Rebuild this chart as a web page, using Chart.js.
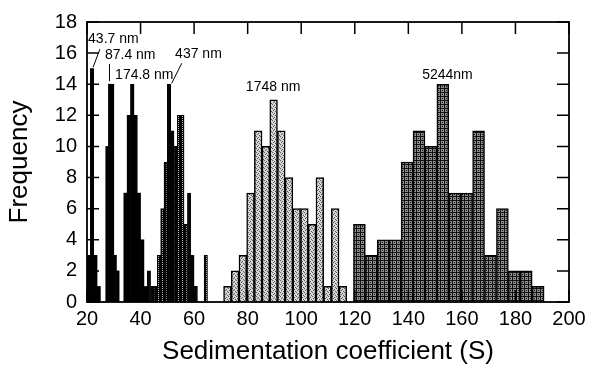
<!DOCTYPE html>
<html>
<head>
<meta charset="utf-8">
<script src="https://cdn.jsdelivr.net/npm/chart.js@4/dist/chart.umd.min.js"></script>
<style>
  body { margin: 0; background: #fff; }
</style>
</head>
<body>
<canvas id="graph" width="597" height="367"></canvas>
<script>
// 43.7 nm (ビン中心, 度数)
const s43Bins = [20.625, 21.875, 23.125, 24.375];
const s43Counts = [3, 15, 3, 1];

// 87.4 nm
const s87Bins = [27.5, 28.5, 29.5, 30.5, 31.5];
const s87Counts = [10, 14, 14, 3, 2];

// 174.8 nm
const s174Bins = [34.375, 35.625, 36.875, 38.125, 39.375, 40.625, 41.875];
const s174Counts = [7, 12, 14, 12, 7, 4, 1];

// 437 nm
const s437Bins = [43.125, 44.375, 45.625, 46.875, 48.125, 49.375, 50.625, 51.875, 53.125,
  54.375, 55.625, 56.875, 58.125, 59.375, 60.625, 61.875, 63.125, 64.375];
const s437Counts = [2, 1, 1, 3, 6, 9, 14, 11, 10, 12, 12, 5, 7, 3, 1, 0, 0, 3];

// 1748 nm
const s1748Bins = [72.44, 75.31, 78.19, 81.06, 83.94, 86.81, 89.69, 92.56, 95.44,
  98.31, 101.19, 104.06, 106.94, 109.81, 112.69, 115.56];
const s1748Counts = [1, 2, 3, 7, 11, 10, 13, 11, 8, 6, 6, 5, 8, 1, 6, 1];

// 5244 nm
const s5244Bins = [112.83, 117.28, 121.73, 126.18, 130.63, 135.08, 139.53, 143.98, 148.43,
  152.88, 157.33, 161.78, 166.23, 170.68, 175.13, 179.58, 184.03, 188.48];
const s5244Counts = [1, 0, 5, 3, 4, 4, 9, 11, 10, 14, 7, 7, 11, 3, 6, 2, 2, 1];

// 目盛
const xTicks = [20, 40, 60, 80, 100, 120, 140, 160, 180, 200];
const yTicks = [0, 2, 4, 6, 8, 10, 12, 14, 16, 18];

// 注記 (データ座標)
const noteTexts = ['43.7 nm', '87.4 nm', '174.8 nm', '437 nm', '1748 nm', '5244nm'];
const noteX = [20.4, 26.7, 30.5, 52.9, 89.5, 154.6];
const noteY = [16.9, 15.9, 14.6, 15.95, 13.8, 14.6];
const noteAlign = ['left', 'left', 'left', 'left', 'center', 'center'];

// 引き出し線
const lineFromX = [24.8, 28.4, 55.4];
const lineFromY = [16.25, 15.3, 15.35];
const lineToX = [22.3, 28.4, 51.6];
const lineToY = [15.1, 14.2, 14.05];

const FONT = "'Liberation Sans', Arial, Helvetica, sans-serif";

/*
  パターン作成
*/
function makePattern(w, h, bg, fg, cells) {
  let c = document.createElement('canvas');
  c.width = w;
  c.height = h;
  let g = c.getContext('2d');
  g.fillStyle = bg;
  g.fillRect(0, 0, w, h);
  g.fillStyle = fg;
  cells.forEach(function(p) { g.fillRect(p[0], p[1], 1, 1); });
  return g.createPattern(c, 'repeat');
}

const dotDark = makePattern(4, 2, '#050505', '#bbb', [[2, 0]]);
const dotLight = makePattern(4, 4, '#d6d6d6', '#5a5a5a', [[0, 0], [2, 1], [1, 2], [3, 3]]);
const hatchDark = makePattern(4, 4, '#8e8e8e', '#111', [[0, 0], [1, 0], [2, 0], [3, 0], [0, 1], [0, 2], [0, 3], [2, 2]]);

function toPoints(bins, counts) {
  return bins.map(function(b, i) { return {x: b, y: counts[i]}; });
}

function barSet(label, bins, counts, axis, fill, border) {
  return {
    label: label,
    data: toPoints(bins, counts),
    xAxisID: axis,
    backgroundColor: fill,
    borderColor: '#000',
    borderWidth: border,
    borderSkipped: 'start',
    barPercentage: 1,
    categoryPercentage: 1,
    grouped: false
  };
}

// 隠し横軸 (系列ごとにビン幅を別に計算させる)
function hiddenAxis() {
  return { type: 'linear', min: 20, max: 200, offset: false, display: false };
}

/*
  枠・内向き目盛・注記
*/
const framePlugin = {
  id: 'frame',
  afterDatasetsDraw(chart) {
    const ctx = chart.ctx;
    const a = chart.chartArea;
    const xs = chart.scales.x;
    const ys = chart.scales.y;
    ctx.save();
    ctx.strokeStyle = '#000';
    ctx.lineWidth = 1.5;
    ctx.beginPath();
    xTicks.forEach(function(v) {
      let px = xs.getPixelForValue(v);
      ctx.moveTo(px, a.top); ctx.lineTo(px, a.top + 12);
      ctx.moveTo(px, a.bottom); ctx.lineTo(px, a.bottom - 12);
    });
    yTicks.forEach(function(v) {
      let py = ys.getPixelForValue(v);
      ctx.moveTo(a.left, py); ctx.lineTo(a.left + 12, py);
      ctx.moveTo(a.right, py); ctx.lineTo(a.right - 12, py);
    });
    ctx.stroke();
    ctx.lineWidth = 1.8;
    ctx.strokeRect(a.left, a.top, a.right - a.left, a.bottom - a.top);

    // 注記
    ctx.fillStyle = '#000';
    ctx.font = '14px ' + FONT;
    ctx.textBaseline = 'middle';
    noteTexts.forEach(function(t, i) {
      ctx.textAlign = noteAlign[i];
      ctx.fillText(t, xs.getPixelForValue(noteX[i]), ys.getPixelForValue(noteY[i]));
    });
    ctx.lineWidth = 1;
    ctx.beginPath();
    lineFromX.forEach(function(v, i) {
      ctx.moveTo(xs.getPixelForValue(v), ys.getPixelForValue(lineFromY[i]));
      ctx.lineTo(xs.getPixelForValue(lineToX[i]), ys.getPixelForValue(lineToY[i]));
    });
    ctx.stroke();
    ctx.restore();
  }
};

new Chart(document.getElementById('graph'), {
  type: 'bar',
  data: {
    datasets: [
      barSet('43.7 nm', s43Bins, s43Counts, 'x', '#000', 0),
      barSet('87.4 nm', s87Bins, s87Counts, 'x2', '#000', 0),
      barSet('174.8 nm', s174Bins, s174Counts, 'x3', '#000', 0),
      barSet('437 nm', s437Bins, s437Counts, 'x4', dotDark, 1),
      barSet('1748 nm', s1748Bins, s1748Counts, 'x5', dotLight, 1.5),
      barSet('5244 nm', s5244Bins, s5244Counts, 'x6', hatchDark, 1.5)
    ]
  },
  options: {
    responsive: false,
    animation: false,
    devicePixelRatio: 1,
    layout: { padding: { left: 0, right: 28, top: 20, bottom: 0 } },
    plugins: { legend: { display: false }, tooltip: { enabled: false } },
    scales: {
      x: {
        type: 'linear', min: 20, max: 200, offset: false,
        grid: { display: false, drawTicks: false },
        border: { display: false },
        ticks: { stepSize: 20, maxRotation: 0, padding: 5, color: '#000', font: { family: FONT, size: 20 } },
        title: { display: true, text: 'Sedimentation coefficient (S)', color: '#000',
          font: { family: FONT, size: 26 }, padding: { top: 0, bottom: 0 } },
        afterFit: function(s) { s.height = 65; }
      },
      x2: hiddenAxis(),
      x3: hiddenAxis(),
      x4: hiddenAxis(),
      x5: hiddenAxis(),
      x6: hiddenAxis(),
      y: {
        min: 0, max: 18,
        grid: { display: false, drawTicks: false },
        border: { display: false },
        ticks: { stepSize: 2, padding: 10, color: '#000', font: { family: FONT, size: 20 } },
        title: { display: true, text: 'Frequency', color: '#000',
          font: { family: FONT, size: 26 }, padding: { top: 4, bottom: 0 } },
        afterFit: function(s) { s.width = 87; }
      }
    }
  },
  plugins: [framePlugin]
});
</script>
</body>
</html>
